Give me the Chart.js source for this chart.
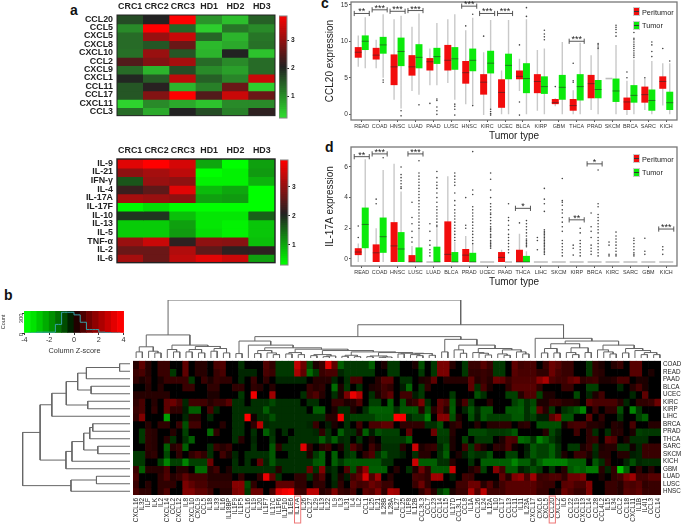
<!DOCTYPE html>
<html>
<head>
<meta charset="utf-8">
<style>
  body { margin: 0; background: #fff; font-family: "Liberation Sans", Arial, sans-serif; }
  canvas { position: absolute; }
  .letter { position: absolute; font-weight: bold; font-size: 14px; color: #111; }
  .lg { position: absolute; font-size: 7.3px; color: #222; }
  .sq { position: absolute; width: 7px; height: 9px; border: 1px solid #ccc; box-sizing: border-box; }
</style>
<script src="https://cdn.jsdelivr.net/npm/chart.js@4"></script>
</head>
<body>
<div class="letter" style="left:70px;top:2px">a</div>
<div class="letter" style="left:4px;top:287px">b</div>
<div class="letter" style="left:321px;top:-5px">c</div>
<div class="letter" style="left:325px;top:139px">d</div>
<script>
// panel a, heatmaps
var aCols = ['CRC1', 'CRC2', 'CRC3', 'HD1', 'HD2', 'HD3'];
var chemoRows = ['CCL20', 'CCL5', 'CXCL5', 'CXCL8', 'CXCL10', 'CCL2', 'CXCL9', 'CXCL1', 'CCL11', 'CCL17', 'CXCL11', 'CCL3'];
var chemoVals = [
  [1.6, 2, 3.9, .9, .5, 1.4],
  [1, 3.9, 1.35, .35, 1.2, 1],
  [1.3, 3, 3.4, 1.35, .6, 1.2],
  [1.3, 1.5, 2.6, .55, .7, 1.25],
  [1.25, 3, 1.5, .6, 2, .45],
  [2.4, 2.8, 3.1, 1.3, 1, 1.3],
  [1.3, .6, 1.6, 1, .8, 1.3],
  [1.95, 1.45, 3.3, 1.4, 1.05, 3.4],
  [1.5, 2.05, .6, 1.1, 2.6, .35],
  [1.5, 2.8, 3.9, 2.4, 3.4, 2.6],
  [.3, 1, .7, .45, 1, 1],
  [1.3, .7, 2, 1.6, 1.1, 2.1]
];
var ilRows = ['IL-9', 'IL-21', 'IFN-γ', 'IL-4', 'IL-17A', 'IL-17F', 'IL-10', 'IL-13', 'IL-5', 'TNF-α', 'IL-2', 'IL-6'];
var ilVals = [
  [3.6, 3.9, 3.5, .95, .2, 1],
  [2.9, 3.1, 3.3, .15, .35, 1.05],
  [1.6, 3, 2.9, .35, .35, .85],
  [2.2, 2.5, 3.6, .8, .95, .05],
  [3.1, 3, 2.9, 1, 1.05, .05],
  [.3, .5, .05, .05, .05, .05],
  [1.85, 1.85, .75, .45, .45, 1.5],
  [.65, .65, 1, .45, .35, .7],
  [.65, .65, 1.05, .5, .35, .7],
  [3, 3.4, 2.1, 2.9, 2.85, .75],
  [2.6, 2.6, 3.2, 2.5, 2.1, 2.1],
  [3.1, 2.6, 3.3, 3.6, 3.4, 1]
];

// panel b, tumour x gene heatmap
var geneCols = ['CXCL16','IL32','ILF','ILK','IL2','CXCL14','CCL2','CXCL12','IL8','CXCL10','CXCL9','CCL5','IL18','IL33','IL16','IL18BP','IL1F9','IL1F5','CCL16','IL19','IL20','IL1F7','IL17C','IL1F6','IL1F10','IL1E6','IL17A','IL26','CCL27','IL29','IL13','IL22','IL9','IL3','IL31','IL4','IL2','CCL1','IL25','IL21','IL28B','IL28A','IL27','CCL25','IL1F8','IL12B','CCL3L3','CCL7','CCL23','CCL14','CCL15','IL17D','CCL3L1','CCL8','IL1A','CCL26','IL24','IL12A','IL10','CCL17','CCL13','CCL11','IL11','IL23A','CXCL17','CXCL6','CXCL5','CCL20','CXCL2','IL6','CCL22','CCL19','CXCL13','CCL14','CCL28','CCL4L2','IL15','IL34','CCL2','CCL18','CXCL11','IL1B','IL4I1','CCL3','CCL14'];
var tumorRows = ['COAD','READ','PAAD','BLCA','UCEC','KIRC','KIRP','LIHC','BRCA','PRAD','THCA','SARC','SKCM','KICH','GBM','LUAD','LUSC','HNSC'];
var zCOAD = [.3,1,.3,0,.5,.5,0,0,1,0, .3,.3,0,.7,.8,0,0,-.4,0,0, 0,.8,.4,-.5,-.5,-.5,2.6,1.2,-.7,.2, .5,3.2,1,-1,
  -.5,-.5,-.5,-.5,-1,0,.2,-.5,-.5,0, 0,.2,-.8,0,-.5,1.4,1.4,.3,0,-.5, .5,.5,.9,.5,-.5,-.5,0,1,.6,.7, .7,0,.5,1.2,.9,.5,.5,0,0,-.5, .4,.2,0,.3,.5,0,.9,.9,0,0,0];
var zREAD = [.5,.7,.3,0,.5,.5,-.5,0,1,0, .3,.3,0,.5,.7,0,0,-.3,-.3,-.3, 0,.7,.5,-.5,-.5,-.5,2.2,1,-1.2,-.5, .5,.7,.7,-.3,
  -.5,-.5,-.5,-.5,-.5,0,0,-.5,-.5,0, 0,0,-.5,0,-.5,1.4,1.4,0,0,-.5, .4,.4,.5,.4,-.5,-.5,0,.9,.7,.7, .7,.4,.4,1.2,.7,.5,.5,0,0,-.5, .4,.3,0,0,0,0,.9,.9,0,.2,0];
var zPAAD = [.4,.2,.4,0,.2,.5,.5,.5,.5,-.5, 0,.5,.2,.5,.4,.4,0,-.3,0,.5, 0,.4,0,-.3,-.3,-.3,-.3,-.3,0,.3, .3,.3,-.3,0,
  -.4,.7,.7,0,0,.3,.9,.9,0,-.4, -.4,0,.2,.3,1,0,.3,.3,.3,.3, 1,.3,.5,.3,1.2,1,.5,.8,.8,.8, .8,1.6,2.2,.8,.6,.6,1,1.3,.4,.5, .6,.2,.2,.3,.7,.7,0,.2,.2,0,0];
var zBLCA = [0,0,.3,0,.3,0,0,0,.5,.5, 0,0,.4,.4,0,0,.4,.4,0,.4, .3,0,.3,0,0,0,0,0,.5,.3, .4,0,-1.2,.2,
  -.5,0,-.4,0,.2,.3,.6,.4,0,-.2, -1.1,0,-.5,.4,0,0,0,0,0,0, 1,-.4,.7,.2,0,0,.4,.9,.9,.9, .9,.4,0,0,0,.5,.5,0,0,-.6, -.6,0,0,0,-.3,0,.3,.7,.2,0,0];
var zUCEC = [.3,.3,.3,.3,.3,.3,0,0,0,0, 0,0,.2,.2,0,0,0,-.5,0,3.5, 0,0,2,0,0,0,0,-.4,.5,.8, .3,0,-.4,.2,
  1.4,3.4,2.4,0,-.4,.2,.6,1,0,.6, .6,-.2,-.5,0,0,0,0,-.5,0,0, 0,-.8,-.4,0,0,0,-.6,-.6,.3,.8, .8,-.6,.2,.2,0,0,0,-.7,0,-.3, .2,.6,0,0,0,0,-.3,0,1,0,0];
var zKIRC = [.4,.7,0,.3,0,1,1.2,.7,-.3,.6, .6,.6,.3,.5,.5,.9,-.4,-.4,0,-.4, -.4,-.4,-.7,-.4,-.4,-.4,-.4,0,-.4,-.4, 0,0,.5,.5,
  .2,.3,.8,0,-.6,-.6,0,-1,0,-.8, .3,.5,1.4,-.4,0,1,.7,-.9,.1,.7, -.5,0,0,.3,0,0,0,-.6,-.9,-.4, -.7,.2,.2,.5,.5,.3,.3,.2,0,1, .7,.7,.7,.7,.3,-.3,0,.4,.4,.5,1.2];
var zKIRP = [.5,.7,0,.4,0,1,.4,.4,-.2,-1, -1,0,.7,-.3,0,0,-.4,-.4,-.4,-.4, -.4,-1,-.4,-.4,-.4,-.4,-.4,-.4,0,-1, -1,0,.2,-.4,
  -.4,.2,0,-.4,-1,-1,-1,-1,-.4,-.9, -.9,-.9,.3,-.8,.3,1,.3,-1,0,-.3, -.9,-.3,-.9,-.9,0,0,-.9,-.9,-1,-.4, -.9,1,.3,-.5,0,-.4,-.6,-.9,-1.6,0, .5,0,.4,.4,-.8,0,-1.6,-.5,0,0,0];
var zLIHC = [.4,1.5,0,0,0,-2,0,0,-.3,.3, .3,0,-.3,0,0,0,-.4,-.4,3.8,.1, -.4,-.4,-.8,-.4,-.4,-.4,-.4,-.4,-.4,-.4, -.4,.3,.3,3.6,
  -.4,-.6,-.6,-.6,-.6,-.9,-.9,-.9,3.8,3.6, -.3,-.6,-.6,-1.5,0,1.6,1.6,-.8,.2,0, -.8,-.2,-.9,-.6,-.6,-.6,-.6,-.9,-.9,-.4, -.6,-.2,-.2,.9,1.6,-.8,-.8,0,0,1, 0,.4,0,0,-.4,0,0,-.6,-1,0,0];
var zBRCA = [0,0,.3,0,.4,.4,0,.5,-.8,.6, .6,0,0,0,.3,0,-.4,-.4,0,.4, 2.5,-.3,-.4,-.4,-.4,-.4,-.4,-.4,-.3,.5, 0,-.2,.2,0,
  -.4,0,.6,0,.7,.7,1,1,0,.4, .4,.4,.4,-.4,-.4,-.8,0,.3,.5,0, 0,.3,0,.3,.3,.4,.4,0,.3,.4, 0,-.8,-.8,-.8,-.8,.1,.6,.7,.7,.3, .3,.2,0,.3,.2,0,.7,0,0,.3,.3];
var zPRAD = [0,-.5,.4,.3,0,0,.3,0,-.6,0, 0,0,-1.2,.4,0,0,-.4,-.4,0,-.4, 0,-1,-.4,0,-.4,0,-.4,-.4,-.4,-.3, .4,-.4,0,-1,
  -.4,-.4,.2,-1,-.2,-.8,-.6,-.6,-.6,0, 1,0,0,0,1.2,-.6,-.6,.3,0,0, -.7,-.7,-.7,-.5,-.5,-.5,-.6,-.9,0,0, 0,0,.3,-.7,-.3,0,0,.6,0,.4, -.4,0,-.4,.3,.3,0,.2,-.6,-.5,-.5,-.5];
var zTHCA = [0,-.5,.4,.3,0,.3,-.4,0,-.4,-1, 0,0,0,0,0,0,-.4,.3,0,-.3, 0,0,-.5,0,0,-.4,-.4,-.4,-.4,-.4, -1,-.4,-1,-.3,
  -.4,0,-.4,0,.2,0,-.5,-.5,-.5,-.5, -1,0,0,0,0,-.5,-.5,.2,0,-.6, 0,-.5,-.5,-.5,0,.2,.8,.7,-1.2,-1, -.4,-1.5,-1,-.5,-.2,0,0,0,0,.4, .5,0,1,.8,0,.2,-.4,-.4,-.4,0,0];
var zSARC = [0,0,.4,.3,0,-1,.3,.5,-1,0, 0,0,-.4,.5,.3,.5,0,0,0,-.4, 0,0,-.9,.4,-.4,-.4,-.4,3.2,.4,0, .3,.5,0,.2,
  -.4,.8,.3,0,.6,.2,-.4,-.4,-.4,.3, 0,2.8,.2,.4,.5,-.3,-.8,.2,0,.6, -.5,.6,.2,0,.4,.3,.8,.1,0,-.2, -.9,-.6,-.6,-1,-.4,0,-.5,-.5,.2,.5, -.4,.2,.3,.3,-.5,-.5,.1,-.3,.5,.5,.5];
var zSKCM = [-.5,-.5,.3,.4,0,-.7,0,.4,0,.4, .7,.4,-.4,0,.6,.2,-.3,0,-.4,-.4, -.4,-.4,-.9,0,0,-.4,-.4,-.4,.2,-.5, -1,0,-1,0,
  -.4,-.6,0,.4,.8,-.4,-.9,-.4,-.4,-.2, 0,-.4,.3,.3,0,-.4,-1,0,.2,-.2, -.6,-.4,-.4,-.8,0,0,-.6,-.6,0,-.3, -.9,-.6,-.6,-1,-.4,.2,0,.5,.5,.2, -.3,.3,.3,0,.3,.3,-.2,-.3,.5,.5,.5];
var zKICH = [-.5,-.5,0,0,-.6,-1.6,-.6,-.6,-1.6,-.6, -.6,-.6,1.2,0,0,0,-.4,0,-.4,0, 1,-.3,-.9,-.4,-.4,-.4,-.4,-.4,-.4,-.9, -1,0,-1,-.5,
  -.9,-.9,-.9,-.9,-.9,-.9,-.4,-.4,0,0, 0,2.8,-1,-1,-1,-.4,-.4,.3,0,0, -.4,0,-1,-1,-1,-1,-1,-1.6,-1,-1, -.4,-1,-1.5,-1.5,-1.5,-1.5,-1,-1,-1,0, -.9,-.4,.4,0,0,-.3,-.8,-.3,-.4,-.4,-.4];
var zGBM = [.5,-1,.3,.3,.3,.7,0,.3,.3,0, -1.2,-1.2,.3,.6,0,.2,-.4,-.4,-.4,-.4, -.4,-.4,-.4,.3,-.4,-.4,-.4,-.4,1.2,-.4, 1.5,-.2,-.4,0,
  .8,-.8,.6,1.8,-1,-1,-1,0,.3,0, -.4,.2,1.2,.4,-.9,-.9,-.9,2.8,0,0, .2,.5,-.6,0,1.6,.6,-.9,-.9,-.2,-.4, -.8,-.5,0,-.4,0,.3,-.9,-1.2,-1,-1.4, -1.4,.3,-.3,.4,-2.6,-1,0,.4,0,.3,0];
var zLUAD = [.7,0,0,0,.4,.8,.3,.5,1,.6, .6,.6,.3,.3,.3,.3,0,.4,0,0, .4,3.4,1,-.4,0,0,.4,.4,-.4,.3, .8,0,-.4,.2,
  -.2,.6,1,3,.8,2,0,.3,0,0, 0,.7,.6,.4,2,2,0,-.2,0,.6, .5,0,0,0,0,1,.3,1.5,1.8,.7, 2,.5,.6,.8,.8,.4,1.2,1.2,1.5,0, 0,.2,0,.4,.6,1.4,2,.6,.6,.9,.9];
var zLUSC = [.5,0,.3,0,.4,.4,.4,0,1.4,1, .7,.7,.4,.4,.4,.4,1.6,1.6,-.7,.4, 0,0,0,1,1,1,.4,.4,0,.4, .4,0,-.3,.4,
  0,.9,.6,.7,1.2,.9,.5,.5,0,0, 0,.5,1.2,.4,0,0,0,0,.6,.6, 1.2,1.2,.3,.8,.2,.6,.9,.9,.9,.9, .9,.6,.5,.5,0,.9,1,.7,.7,1.5, 0,0,.5,.5,.3,.8,.7,.9,.4,.5,.5];
var zHNSC = [.7,.4,.4,0,.4,.8,0,0,1.5,1.5, 1,1,.6,0,.3,.3,1.4,1.6,-.5,1.2, 1.2,0,.7,3,3.5,3.8,.6,.5,2.5,2.5, .3,.5,1.5,.5,
  .4,.7,0,1,.8,1.5,.4,2.2,2,0, 0,0,.4,1,.3,-.5,-1,.2,.5,.5, 2.2,.8,2.5,.6,.6,.6,.9,.9,.9,.9, .9,.5,.5,0,.2,1.2,.8,.5,.5,1.5, 0,0,.5,.5,.3,.9,.8,1,.5,.5,.5];
var tumorVals = [zCOAD, zREAD, zPAAD, zBLCA, zUCEC, zKIRC, zKIRP, zLIHC, zBRCA, zPRAD, zTHCA, zSARC, zSKCM, zKICH, zGBM, zLUAD, zLUSC, zHNSC];
var boxedGenes = [26, 67];

// dendrograms: [height, left, right], 0 is a leaf
var colTree = [171,
  [68,
    [33, [18,0,0], [20,0,[15,0,0]]],
    [38, [25,0,[18,0,0]], [34, [25,[18,0,0],[15,0,0]], [28,[20,0,0],[15,0,0]]]]],
  [98,
    [63,
      [50, [13,0,0],
        [38, 0,
          [30,
            [22,[13,0,0],[15,0,[10,0,0]]],
            [26,
              [16,[12,0,0],[10,0,0]],
              [22,
                [10,[7,0,0],[6,[4,0,0],0]],
                [18,
                  [8,[5,0,0],[4,0,0]],
                  [16,
                    [6,[4,0,0],[3,[2,0,0],0]],
                    [14, [12,0,0], [13,[10,0,[7,0,0]],[8,0,0]]]]]]]]]],
      [55, [18,0,0],
        [38, [24,0,[14,0,0]],
          [28, [16,0,[14,0,[9,0,0]]], [24,[12,0,[8,0,0]],[18,0,[12,0,0]]]]]]],
    [58, 0,
      [50,
        [42, [28,[15,0,0],[15,0,0]], [30,[16,0,[10,0,0]],[16,0,0]]],
        [38, [24,0,[18,0,[12,0,0]]], [28,[15,0,0],[22,0,[16,[10,0,0],[10,0,0]]]]]]]]];
var rowTree = [320,
  [268,
    [233, [190, [156, [130,[31,0,0],0], [116,0,0]], [126,0,0]], 0],
    [191, [173, [138, [120,[111,0,0],0], [96,0,0]], 0], 0]],
  [176, [100,0,0], 0]];

// colour key of panel b
var keyBins = [-3.75,-3.25,-2.75,-2.25,-1.75,-1.25,-.75,-.25,.25,.75,1.25,1.75,2.25,2.75,3.25,3.75];
var keyCounts = [0,0,13,13,13,133,320,320,280,166,53,53,13,5,0,0];

// panel c, CCL20
var cTypes = ['READ','COAD','HNSC','LUAD','PAAD','LUSC','HNSC','KIRC','UCEC','BLCA','KIRP','GBM','THCA','PRAD','SKCM','BRCA','SARC','KICH'];
var cPeriLo  = [6.5,6.3,2,3.2,4,4.3,1.4,-.1,0,3.2,.5,1.1,0,.6,4.9,-.1,.6,1.2];
var cPeriQ1  = [7.75,7.5,4,5.3,6,6,4.2,2.7,.9,4.8,2.9,1.4,.5,2.2,4.9,.6,1.6,3.5];
var cPeriMed = [8.5,8.1,6.5,6.5,7.2,7.4,5.7,4.4,3,5.2,4.5,1.6,1.2,4.2,4.9,1.7,2.7,4.5];
var cPeriQ3  = [9.2,9.1,8.2,8.1,7.7,9.5,7.3,5.5,4.8,6,5.5,2.1,2.1,5.4,4.9,2.3,3.8,5.2];
var cPeriHi  = [10.8,10.2,13,12,9,13,11.5,8.5,6,7.6,8.8,2.2,3.3,8.1,4.9,4.6,4.9,7];
var cTumLo   = [6.3,5,.8,2.7,4,2,1.3,.7,0,0,0,0,0,0,0,0,0,0];
var cTumQ1   = [8.8,8.3,6.6,6.3,6.9,6.1,5.9,5.6,4.8,2.9,2.8,2,1.9,2.2,1.7,1.6,.5,.6];
var cTumMed  = [10,9.5,8.6,7.8,7.9,7.6,7.4,7,6.7,4.9,3.8,3.7,3.8,3.4,3.2,2.6,1.9,1.6];
var cTumQ3   = [10.8,10.6,10.5,9.6,9.1,9.2,9,8.7,8.3,7,5.2,5.4,5.5,4.7,4.9,4,3.4,3.1];
var cTumHi   = [13.3,13.7,13.5,13.8,12.5,13.7,13.2,12.9,12.9,13,9,9.9,9.8,9,9.5,7.5,7.3,7];
var cPeriOut = [[4,1.5],[6,12.1],[7,10.7],[9,9.5],[9,1.7],[9,-.1],[11,3.8],[12,7],[12,4.6],[12,4.4],[15,5.8],[15,5],[16,5],[17,9]];
var cTumOut = [[1,4.7],[1,4.4],[2,.5],[2,-.2],[3,1.3],[4,2.1],[4,1.9],[4,1],[4,.5],[4,0],[5,1.4],[5,1.1],[5,.7],[5,-.1],[6,13.7],[6,1.2],[7,.7],[7,.4],[7,.1],[7,-.1],
  [9,14.6],[9,13.4],[10,11.5],[10,11],[10,10.6],[10,10.2],[13,9.7],[13,9.5],[13,9.2],[13,9],[14,12.2],[14,11.9],[14,11.6],[14,11.2],[14,10.7],
  [15,11.2],[15,10.4],[15,10.2],[15,9.9],[15,9.6],[15,9.3],[15,9],[15,8.7],[15,8.4],[15,8.1],[15,7.8],[16,9.9],[16,9.5],[16,8.6],[16,7.9],[17,7.3]];
var cSig = [[0,13.8,'**'],[1,14.3,'***'],[2,14.1,'***'],[3,14.2,'***'],[6,14.8,'***'],[7,13.8,'***'],[8,13.8,'***'],[12,10,'***']];

// panel d, IL-17A
var dTypes = ['READ','COAD','HNSC','LUSC','LUAD','BLCA','PRAD','UCEC','PAAD','THCA','LIHC','SKCM','KIRP','BRCA','KIRC','SARC','GBM','KICH'];
var dPeriLo  = [-.2,-.2,-.2,-.2,-.2,-.2,-.2,-.2,-.2,-.2,-.2,-.2,-.2,-.2,-.2,-.2,-.2,-.2];
var dPeriQ1  = [.25,-.2,-.2,-.2,-.2,-.2,-.2,-.2,-.2,-.2,-.2,-.2,-.2,-.2,-.2,-.2,-.2,-.2];
var dPeriMed = [.45,.4,.85,-.2,-.2,.3,.25,-.2,.1,-.2,-.2,-.2,-.2,-.2,-.2,-.2,-.2,-.2];
var dPeriQ3  = [.7,.95,2.4,.25,-.2,2.45,.65,-.2,.45,.6,-.2,-.2,-.2,-.2,-.2,-.2,-.2,-.2];
var dPeriHi  = [1,2,6.2,.85,-.2,5.4,1.5,-.2,.6,1.65,-.2,-.2,-.2,-.2,-.2,-.2,-.2,-.2];
var dTumLo   = [-.2,-.2,-.2,-.2,-.2,-.2,-.2,-.2,-.2,-.2,-.2,-.2,-.2,-.2,-.2,-.2,-.2,-.2];
var dTumQ1   = [.7,.4,-.2,-.2,-.2,-.2,-.2,-.2,-.2,-.2,-.2,-.2,-.2,-.2,-.2,-.2,-.2,-.2];
var dTumMed  = [2.25,1.45,.65,-.2,-.2,-.2,-.2,-.2,-.2,-.2,-.2,-.2,-.2,-.2,-.2,-.2,-.2,-.2];
var dTumQ3   = [3.35,2.7,1.75,.75,.8,.45,.4,-.2,-.2,.2,-.2,-.2,-.2,-.2,-.2,-.2,-.2,-.2];
var dTumHi   = [6.5,5.8,4.4,2,2,1.1,1,-.2,-.2,.5,-.2,-.2,-.2,-.2,-.2,-.2,-.2,-.2];
var dPeriOut = [[0,1.4],[0,2.15],[1,3.9],[1,3.6],[3,3.7],[3,2.7],[3,2.3],[3,1.8],[3,1.4],[3,1.1],[4,2.3],[4,1.8],[4,1.2],[4,.9],[4,.6],[4,.4],[4,.2],
  [6,4],[6,2.2],[6,2],[9,2.35],[10,1.4],[10,1.2],[10,.6],[12,.9],[12,.7],[12,.25],[13,3],[13,2.1],[13,1.8],[13,1.4],[13,.9],[13,.7],[13,.5],[13,.3],
  [14,1.1],[14,.9],[14,.3],[14,.2],[16,1.35],[16,.5],[16,.3],[17,.8],[17,.6],[17,.3]];
var dTumOut = [[1,6.6],[2,6],[2,5.5],[2,5.3],[2,5.1],[2,4.9],[2,4.7],[2,4.6],
  [3,6.4],[3,5.6],[3,5.4],[3,5.2],[3,5],[3,4.8],[3,4.6],[3,4.4],[3,4.2],[3,4],[3,3.8],[3,3.6],[3,3.4],[3,3.2],[3,3],[3,2.8],[3,2.6],[3,2.4],[3,2.2],[3,2],
  [4,5.7],[4,5.3],[4,5],[4,4.8],[4,4.6],[4,4.3],[4,4],[4,3.7],[4,3.4],[4,3.2],[4,3],[4,2.8],[4,2.6],[4,2.4],[4,2.2],[4,2.1],
  [5,5.6],[5,5.4],[5,5.2],[5,5],[5,4.8],[5,4.3],[5,3.8],[5,3.5],[5,3.2],[5,3],[5,2.8],[5,2.6],[5,2.4],[5,2.2],[5,2],[5,1.8],[5,1.6],[5,1.4],[5,1.2],
  [6,7],[6,4.5],[6,4.2],[6,3.4],[6,3.2],[6,3],[6,2.8],[6,2.6],[6,2.4],[6,2.2],[6,2],[6,1.8],[6,1.6],[6,1.4],[6,1.2],[6,1],
  [7,5.6],[7,5.2],[7,4.5],[7,4],[7,3.6],[7,3.4],[7,3.2],[7,3],[7,2.9],[7,2.7],[7,2.5],[7,2.3],[7,2.1],[7,2],[7,1.9],[7,1.8],[7,1.6],[7,1.5],[7,1.4],[7,1.2],[7,1.1],[7,1],[7,.9],[7,.8],[7,.7],
  [8,3.6],[8,2.7],[8,2.5],[8,2.2],[8,1.9],[8,1.6],[8,1.4],[8,1.2],[8,1],[8,.8],[8,.6],[8,.4],
  [9,2.5],[9,2.3],[9,2.1],[9,1.9],[9,1.7],[9,1.5],[9,1.3],[9,1.2],[9,1.1],[9,1],[9,.9],[9,.8],
  [10,4.6],[10,3.9],[10,3.6],[10,3.1],[10,1.9],[10,1.8],[10,1.7],[10,1.6],[10,1.5],[10,1.4],[10,1.3],[10,1.2],[10,1.1],[10,1],[10,.9],[10,.8],[10,.7],[10,.6],[10,.5],[10,.4],[10,.3],
  [11,5.25],[11,3.8],[11,3.7],[11,3.5],[11,3.2],[11,3],[11,2.7],[11,2.4],[11,2.1],[11,1.8],[11,1.2],[11,1],[11,.8],[11,.6],[11,.4],[11,.2],
  [12,2],[12,1.7],[12,1.2],[12,1],[12,.8],[12,.6],[12,.4],[12,.2],
  [13,5.8],[13,3.6],[13,3.4],[13,2.9],[13,2.7],[13,2.5],[13,2.3],[13,2.1],[13,1.9],[13,1.7],[13,1.4],[13,1.2],[13,1],[13,.8],[13,.6],[13,.4],[13,.2],
  [14,1.75],[14,1.5],[14,1.3],[14,1.1],[14,.9],[14,.7],[14,.5],[14,.3],[14,.2],
  [15,1.35],[15,1.2],[15,1],[15,.8],[15,.6],[15,.4],[15,.3],[15,.2]];
var dSig = [[0,6.67,'**'],[1,6.85,'***'],[3,6.85,'***'],[9,3.3,'*'],[12,2.55,'**'],[13,6.2,'*'],[17,1.95,'***']];

// ---- helpers ----
Chart.defaults.font.family = '"Liberation Sans", Arial, sans-serif';
Chart.defaults.animation = false;
Chart.defaults.responsive = false;
Chart.defaults.plugins.legend.display = false;
Chart.defaults.plugins.tooltip.enabled = false;

var noGrid = { display: false, drawTicks: false };

function addCanvas(l, t, w, h) {
    var c = document.createElement('canvas');
    c.width = w; c.height = h;
    c.style.left = l + 'px'; c.style.top = t + 'px';
    document.body.appendChild(c);
    return c.getContext('2d');
}

// frame round the plot area, stars over brackets, red boxes on the gene labels
Chart.register({
    id: 'extras',
    afterDraw: function(chart, args, o) {
        var c = chart.ctx, a = chart.chartArea;
        if (o.frame) {
            c.save();
            c.strokeStyle = o.frame; c.lineWidth = o.frameWidth || 1;
            c.strokeRect(a.left, a.top, a.right - a.left, a.bottom - a.top);
            c.restore();
        }
        (o.stars || []).forEach(function(s) {
            c.save();
            c.fillStyle = '#222'; c.font = '9px "Liberation Sans", Arial';
            c.textAlign = 'center'; c.textBaseline = 'middle';
            c.fillText(s[2], chart.scales.x.getPixelForValue(s[0]), chart.scales.y.getPixelForValue(s[1]) - 1.5);
            c.restore();
        });
        (o.boxed || []).forEach(function(i) {
            var w = chart.scales.x.width / geneCols.length;
            c.save();
            c.strokeStyle = '#ee7777'; c.lineWidth = 1;
            c.strokeRect(chart.scales.x.getPixelForValue(i) - w / 2, a.bottom + 1, w, 27);
            c.restore();
        });
    }
});

function rampColor(v, low, vmax) {
    var mid = [34, 34, 34], top = [255, 0, 0], a, b, t;
    if (v < 2) { a = low; b = mid; t = Math.max(0, (v - .25) / 1.75); }
    else { a = mid; b = top; t = Math.min(1, (v - 2) / (vmax - 2)); }
    return 'rgb(' + [0, 1, 2].map(function(k) { return Math.round(a[k] + (b[k] - a[k]) * t); }).join(',') + ')';
}
function zColor(z) {
    var n = Math.min(255, Math.round(Math.pow(Math.abs(z) / 3.8, .75) * 255));
    return z >= 0 ? 'rgb(' + n + ',0,0)' : 'rgb(0,' + n + ',0)';
}
function cellSets(vals, color) {
    return vals.map(function(row, r) {
        return {
            data: row.map(function() { return [r, r + 1.05]; }),
            backgroundColor: row.map(color),
            borderWidth: 0, barPercentage: 1, categoryPercentage: 1, grouped: false
        };
    });
}

function heatA(top, rows, vals, low, frameWidth, bottom) {
    var w = 232, h = bottom - top + 21;
    new Chart(addCanvas(50, top - 15, w, h), {
        type: 'bar',
        data: { labels: aCols, datasets: cellSets(vals, function(v) { return rampColor(v, low, 3.85); }) },
        options: {
            layout: { padding: { right: 7, bottom: 6 } },
            plugins: { extras: { frame: '#222', frameWidth: frameWidth } },
            scales: {
                x: { position: 'top', afterFit: function(s) { s.height = 15; },
                     grid: noGrid, border: { display: false },
                     ticks: { font: { size: 8.9, weight: 'bold' }, color: '#222', padding: 3, maxRotation: 0, autoSkip: false } },
                y: { reverse: true, min: 0, max: rows.length, afterFit: function(s) { s.width = 67; },
                     afterBuildTicks: function(s) { s.ticks = rows.map(function(n, i) { return { value: i + .5 }; }); },
                     grid: noGrid, border: { display: false },
                     ticks: { font: { size: 8.9, weight: 'bold' }, color: '#222', padding: 4, autoSkip: false,
                               callback: function(v) { return rows[v - .5]; } } }
            }
        }
    });
}

function colorBar(left, top, bottom, vmin, vmax, low) {
    var steps = [], n = 48, i;
    for (i = 0; i < n; i++) steps.push(vmin + (vmax - vmin) * i / n);
    new Chart(addCanvas(left, top - 5, 28, bottom - top + 10), {
        type: 'bar',
        data: {
            labels: [''],
            datasets: steps.map(function(s) {
                return { data: [[s, s + (vmax - vmin) / n + .01]], backgroundColor: rampColor(s, low, 3.85),
                         borderWidth: 0, barPercentage: 1, categoryPercentage: 1, grouped: false };
            })
        },
        options: {
            layout: { padding: { top: 5, bottom: 5 } },
            plugins: { extras: { frame: '#888' } },
            scales: {
                x: { display: false },
                y: { position: 'right', min: vmin, max: vmax, afterFit: function(s) { s.width = 20; },
                     afterBuildTicks: function(s) { s.ticks = [{ value: 1 }, { value: 2 }, { value: 3 }]; },
                     grid: { drawOnChartArea: false, tickLength: 2, color: '#222' }, border: { display: false },
                     ticks: { font: { size: 6.6, weight: 'bold' }, color: '#222', padding: 2 } }
            }
        }
    });
}

function segLine(points, color, width, order) {
    return { type: 'scatter', data: points, showLine: true, borderColor: color, borderWidth: width,
             pointRadius: 0, order: order, spanGaps: false };
}
var gapPt = { x: 0, y: null };

function treeSegs(tree, flip) {
    var n = 0, out = [];
    function pt(p, h) { return flip ? { x: h, y: p } : { x: p, y: h }; }
    function walk(nd) {
        if (!nd) return { p: .5 + n++, h: 0 };
        var A = walk(nd[1]), B = walk(nd[2]), h = nd[0];
        out.push(pt(A.p, A.h), pt(A.p, h), pt(B.p, h), pt(B.p, B.h), gapPt);
        return { p: (A.p + B.p) / 2, h: h };
    }
    walk(tree);
    return out;
}

function boxChart(top, bottom, yMin, yMax, yTicks, yTitle, d) {
    var box = function(lo, hi, color) {
        return { data: d.labels.map(function(n, i) { return { x: i, y: [lo[i], hi[i]] }; }),
                 backgroundColor: color, borderWidth: 0, categoryPercentage: .78, barPercentage: 1, order: 2 };
    };
    var dodge = .195, whisk = [], med = [], flat = [], dots = [], sig = [];
    [[d.peri, -dodge, d.periOut], [d.tum, dodge, d.tumOut]].forEach(function(g) {
        var s = g[0], off = g[1];
        d.labels.forEach(function(n, i) {
            var x = i + off, hw = dodge;
            whisk.push({ x: x, y: s.lo[i] }, { x: x, y: s.hi[i] }, gapPt);
            var seg = s.q3[i] > s.q1[i] ? med : flat;
            var my = s.q3[i] > s.q1[i] ? s.med[i] : s.q3[i];
            seg.push({ x: x - hw, y: my }, { x: x + hw, y: my }, gapPt);
        });
        g[2].forEach(function(o) { dots.push({ x: o[0] + off, y: o[1] }); });
    });
    var tick = (yMax - yMin) * .022;
    d.sig.forEach(function(s) {
        var l = s[0] - .42, r = s[0] + .42, y = s[1];
        sig.push({ x: l, y: y - tick }, { x: l, y: y + tick }, gapPt,
                 { x: r, y: y - tick }, { x: r, y: y + tick }, gapPt,
                 { x: l, y: y }, { x: r, y: y }, gapPt);
    });
    var left = 324, w = 361, xh = 22, h = bottom - top + xh + 5;
    new Chart(addCanvas(left, top - 5, w, h), {
        type: 'bar',
        data: {
            datasets: [
                box(d.peri.q1, d.peri.q3, '#f20d0d'),
                box(d.tum.q1, d.tum.q3, '#0cea0c'),
                segLine(whisk, '#c9c9c9', 1.4, 3),
                segLine(flat, '#bdbdbd', 1.6, 1),
                segLine(med, 'rgba(40,40,40,.8)', .7, 1),
                segLine(sig, '#444', .9, 1),
                { type: 'scatter', data: dots, pointRadius: .8, pointBorderWidth: 0, backgroundColor: '#444', order: 1 }
            ]
        },
        options: {
            layout: { padding: { top: 5, right: 8 } },
            plugins: { extras: { frame: '#777', frameWidth: 1.3, stars: d.sig } },
            scales: {
                x: { type: 'linear', offset: false, min: -.6, max: 17.6,
                     afterFit: function(s) { s.height = xh; },
                     afterBuildTicks: function(s) { s.ticks = d.labels.map(function(n, i) { return { value: i }; }); },
                     grid: { drawOnChartArea: false, offset: false, tickLength: 2, color: '#555' }, border: { display: false },
                     title: { display: true, text: 'Tumor type', font: { size: 10 }, color: '#222', padding: { top: 0, bottom: 0 } },
                     ticks: { font: { size: 5.4 }, color: '#333', padding: 1, autoSkip: false, maxRotation: 0,
                              callback: function(v) { return d.labels[v]; } } },
                y: { min: yMin, max: yMax, afterFit: function(s) { s.width = 27; },
                     afterBuildTicks: function(s) { s.ticks = yTicks.map(function(v) { return { value: v }; }); },
                     grid: { drawOnChartArea: false, tickLength: 2, color: '#555' }, border: { display: false },
                     title: { display: true, text: yTitle, font: { size: 10 }, color: '#222', padding: 0 },
                     ticks: { font: { size: 6.6 }, color: '#333', padding: 1 } }
            }
        }
    });
}

function legendFor(top) {
    [['Peritumor', '#f20d0d', top], ['Tumor', '#0cea0c', top + 13.5]].forEach(function(e) {
        var sq = document.createElement('div');
        sq.className = 'sq';
        sq.style.cssText = 'left:633px;top:' + e[2] + 'px;background:linear-gradient(' + e[1] + ' 44%,#333 44%,#333 56%,' + e[1] + ' 56%)';
        var tx = document.createElement('div');
        tx.className = 'lg'; tx.textContent = e[0]; tx.style.cssText = 'left:642px;top:' + (e[2] + .5) + 'px';
        document.body.appendChild(sq); document.body.appendChild(tx);
    });
}

// ---- panel a ----
heatA(15, chemoRows, chemoVals, [46, 216, 46], 1, 119);
colorBar(279, 15, 119, .24, 3.86, [46, 216, 46]);
heatA(159, ilRows, ilVals, [0, 255, 0], 1.4, 266);
colorBar(280, 159, 266, .3, 3.93, [0, 255, 0]);

// ---- panel b ----
new Chart(addCanvas(0, 305, 135, 50), {
    type: 'bar',
    data: {
        datasets: [
            { data: keyBins.map(function(z) { return { x: z, y: [0, 340] }; }), backgroundColor: keyBins.map(zColor),
              borderWidth: 0, barPercentage: 1, categoryPercentage: 1, order: 2 },
            Object.assign(segLine(keyBins.map(function(z, i) { return { x: z, y: keyCounts[i] }; }), '#35a0a8', 1, 1), { stepped: 'middle' })
        ]
    },
    options: {
        layout: { padding: { top: 6, right: 10 } },
        scales: {
            x: { type: 'linear', offset: false, min: -4.03, max: 4.11, afterFit: function(s) { s.height = 22; },
                 afterBuildTicks: function(s) { s.ticks = [-4, -2, 0, 2, 4].map(function(v) { return { value: v }; }); },
                 grid: { drawOnChartArea: false, offset: false, tickLength: 2, color: '#333' }, border: { display: false },
                 title: { display: true, text: 'Column Z-score', font: { size: 7.3 }, color: '#333', padding: 0 },
                 ticks: { font: { size: 7.3 }, color: '#333', padding: 1, maxRotation: 0 } },
            y: { min: 0, max: 340, afterFit: function(s) { s.width = 24; },
                 afterBuildTicks: function(s) { s.ticks = [{ value: 0 }, { value: 300 }]; },
                 grid: { drawOnChartArea: false, tickLength: 2, color: '#333' }, border: { display: false },
                 title: { display: true, text: 'Count', font: { size: 5.5 }, color: '#333', padding: 0 },
                 ticks: { font: { size: 5.8 }, color: '#333', padding: 1, minRotation: 90, maxRotation: 90 } }
        }
    }
});

new Chart(addCanvas(133, 298, 530, 60), {
    type: 'scatter',
    data: { datasets: [segLine(treeSegs(colTree, false), '#666', 1, 1)] },
    options: { layout: { padding: { top: 2 } }, scales: {
        x: { display: false, min: 0, max: geneCols.length },
        y: { display: false, min: 0, max: 171 }
    } }
});
new Chart(addCanvas(22, 360, 108, 135), {
    type: 'scatter',
    data: { datasets: [segLine(treeSegs(rowTree, true), '#666', 1, 1)] },
    options: { scales: {
        x: { display: false, reverse: true, min: 0, max: 322 },
        y: { display: false, reverse: true, min: 0, max: tumorRows.length }
    } }
});
new Chart(addCanvas(128, 355, 557, 170), {
    type: 'bar',
    data: { labels: geneCols, datasets: cellSets(tumorVals, zColor) },
    options: {
        layout: { padding: { left: 5, top: 5 } },
        plugins: { extras: { boxed: boxedGenes } },
        scales: {
            x: { afterFit: function(s) { s.height = 30; },
                 grid: noGrid, border: { display: false },
                 ticks: { font: { size: 6.4 }, color: '#222', padding: 3, autoSkip: false, minRotation: 90, maxRotation: 90 } },
            y: { position: 'right', reverse: true, min: 0, max: tumorRows.length, afterFit: function(s) { s.width = 24; },
                 afterBuildTicks: function(s) { s.ticks = tumorRows.map(function(n, i) { return { value: i + .5 }; }); },
                 grid: noGrid, border: { display: false },
                 ticks: { font: { size: 6.3 }, color: '#222', padding: 2, autoSkip: false,
                          callback: function(v) { return tumorRows[v - .5]; } } }
        }
    }
});

// ---- panels c and d ----
boxChart(2, 120, -.77, 15.37, [0, 5, 10, 15], 'CCL20 expression', {
    labels: cTypes,
    peri: { lo: cPeriLo, q1: cPeriQ1, med: cPeriMed, q3: cPeriQ3, hi: cPeriHi }, periOut: cPeriOut,
    tum: { lo: cTumLo, q1: cTumQ1, med: cTumMed, q3: cTumQ3, hi: cTumHi }, tumOut: cTumOut,
    sig: cSig
});
boxChart(147, 266, -.46, 7.3, [0, 2, 4, 6], 'IL-17A expression', {
    labels: dTypes,
    peri: { lo: dPeriLo, q1: dPeriQ1, med: dPeriMed, q3: dPeriQ3, hi: dPeriHi }, periOut: dPeriOut,
    tum: { lo: dTumLo, q1: dTumQ1, med: dTumMed, q3: dTumQ3, hi: dTumHi }, tumOut: dTumOut,
    sig: dSig
});
legendFor(7);
legendFor(154);
</script>
</body>
</html>
